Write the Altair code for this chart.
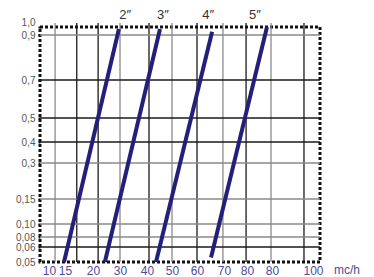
import altair as alt
import pandas as pd

# Axis ticks and labels (as printed on the original)
x_ticks = [10, 15, 20, 30, 40, 50, 60, 70, 80, 90, 100]
x_tick_labels = ["10", "15", "20", "30", "40", "50", "60", "70", "80", "80", "100"]
y_ticks = [0.05, 0.06, 0.08, 0.10, 0.15, 0.3, 0.4, 0.5, 0.7, 0.9, 1.0]
y_tick_labels = ["0,05", "0,06", "0,08", "0,10", "0,15", "0,3", "0,4", "0,5", "0,7", "0,9", "1,0"]

# Pipe-size lines (flow mc/h vs head)
sizes = ["2\u2033", "3\u2033", "4\u2033", "5\u2033"]
flow_low = [14.7, 24.4, 43.6, 65.2]
head_low = [0.05, 0.05, 0.05, 0.053]
flow_high = [29.6, 45.2, 65.6, 88.0]
head_high = [0.975, 0.975, 0.94, 1.0]
label_flow = [31.9, 46.4, 64.1, 83.2]

# Grid lines
vgrid_dark = [17.1, 21.9, 40.8, 60, 79.6, 97.8]
vgrid_light = [11.9, 30, 50, 69.6, 89.6]
hgrid_dark = [0.06, 0.4, 0.5, 0.7]
hgrid_light = [0.08, 0.10, 0.15, 0.3, 0.9]

W, H = 280, 235
xscale = alt.Scale(domain=x_ticks, range=[9, 25, 53, 80, 107, 132, 157, 184, 207, 232, 273])
yscale = alt.Scale(domain=y_ticks, range=[235, 220, 210, 197, 172, 136, 115, 91, 53, 8, 0])

def arr(vals, quote=False):
    if quote:
        return "[" + ",".join("'" + v + "'" for v in vals) + "]"
    return "[" + ",".join(str(v) for v in vals) + "]"

x_label_expr = f"{arr(x_tick_labels, True)}[indexof({arr(x_ticks)}, datum.value)]"
y_label_expr = f"{arr(y_tick_labels, True)}[indexof({arr(y_ticks)}, datum.value)]"

xaxis = alt.Axis(
    values=x_ticks, labelExpr=x_label_expr, grid=False, domain=False, ticks=False,
    labelColor="#4b4c9e", labelFontSize=12, labelFont="Liberation Sans",
    labelPadding=3, title=None, labelFlush=False, labelOverlap=False)
yaxis = alt.Axis(
    values=y_ticks, labelExpr=y_label_expr, grid=False, domain=False,
    ticks=True, tickSize=2, tickColor="#111", tickWidth=2,
    labelColor="#555555", labelFontSize=10, labelFont="Liberation Sans",
    labelPadding=3, title=None, labelOverlap=False,
    labelBaseline={"condition": {"test": "datum.value === 1", "value": "bottom"},
                   "value": "middle"})

lines_df = pd.DataFrame({"size": sizes, "x": flow_low, "y": head_low,
                         "x2": flow_high, "y2": head_high, "lx": label_flow})

vd = pd.DataFrame({"v": vgrid_dark})
vl = pd.DataFrame({"v": vgrid_light})
hd = pd.DataFrame({"v": hgrid_dark})
hl = pd.DataFrame({"v": hgrid_light})

def vrules(df, color):
    return alt.Chart(df).mark_rule(color=color, strokeWidth=1.3).encode(
        x=alt.X("v:Q", scale=xscale, axis=xaxis),
        y=alt.value(-4), y2=alt.value(H))

def hrules(df, color):
    return alt.Chart(df).mark_rule(color=color, strokeWidth=1.3).encode(
        y=alt.Y("v:Q", scale=yscale, axis=yaxis),
        x=alt.value(0), x2=alt.value(W))

pipes = alt.Chart(lines_df).mark_rule(color="#241f7a", strokeWidth=4).encode(
    x=alt.X("x:Q", scale=xscale, axis=xaxis),
    x2="x2:Q",
    y=alt.Y("y:Q", scale=yscale, axis=yaxis),
    y2="y2:Q",
)

size_labels = alt.Chart(lines_df).mark_text(
    fontSize=13, color="#333333", font="Liberation Sans", baseline="middle").encode(
    x=alt.X("lx:Q", scale=xscale, axis=xaxis),
    y=alt.value(-12),
    text="size:N")

unit = alt.Chart(pd.DataFrame({"t": ["mc/h"]})).mark_text(
    fontSize=12, color="#4b4c9e", font="Liberation Sans", baseline="top", align="left").encode(
    x=alt.value(294), y=alt.value(H + 3), text="t:N")

chart = alt.layer(
    vrules(vl, "#8a8a8a"), vrules(vd, "#1a1a1a"),
    hrules(hl, "#8a8a8a"), hrules(hd, "#1a1a1a"),
    pipes, size_labels, unit,
).properties(
    width=W, height=H,
    autosize=alt.AutoSizeParams(type="none"),
    padding={"left": 32, "top": 19, "right": 46, "bottom": 17},
).configure_view(
    stroke="#111111", strokeWidth=3, strokeDash=[3, 2]
)

chart.save("out.html", embed_options={"renderer": "svg", "actions": False})
